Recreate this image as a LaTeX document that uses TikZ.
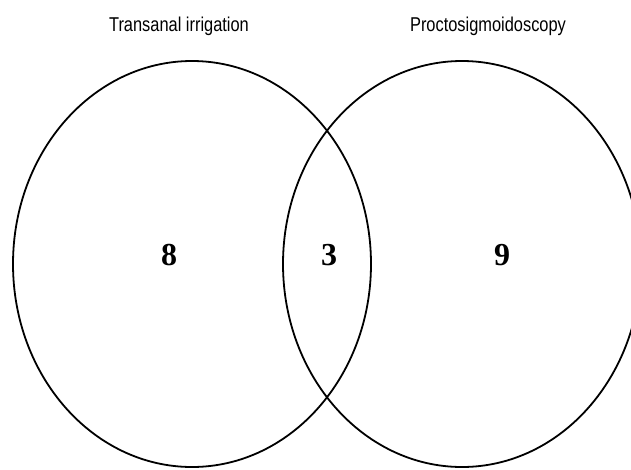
\documentclass[tikz,border=0pt]{standalone}
\usepackage{fontspec}
\setmainfont{Liberation Serif}
\newfontfamily\labelfont[FakeStretch=0.82]{Liberation Sans}
\usetikzlibrary{shapes.geometric}

\tikzset{
  setellipse/.style={draw, ellipse, line width=1.8pt, minimum width=358pt,
    minimum height=406pt, inner sep=0pt},
  setlabel/.style={anchor=base, font=\labelfont\fontsize{20}{20}\selectfont},
  setcount/.style={anchor=base, font=\fontsize{32}{32}\selectfont\bfseries},
}

\begin{document}
\begin{tikzpicture}[x=1pt,y=-1pt]
	\useasboundingbox (0,0) rectangle (631,469);
	\clip (0,0) rectangle (631,469);
	% the two sets
	\node[setellipse] (transanal) at (192,264) {};
	\node[setellipse] (procto) at (462,264) {};
	% set names
	\node[setlabel] (transanal name) at (179,31) {Transanal irrigation};
	\node[setlabel] (procto name) at (488,31) {Proctosigmoidoscopy};
	% counts
	\node[setcount] (only transanal) at (169,265) {8};
	\node[setcount] (both) at (329,265) {3};
	\node[setcount] (only procto) at (502,265) {9};
\end{tikzpicture}
\end{document}
